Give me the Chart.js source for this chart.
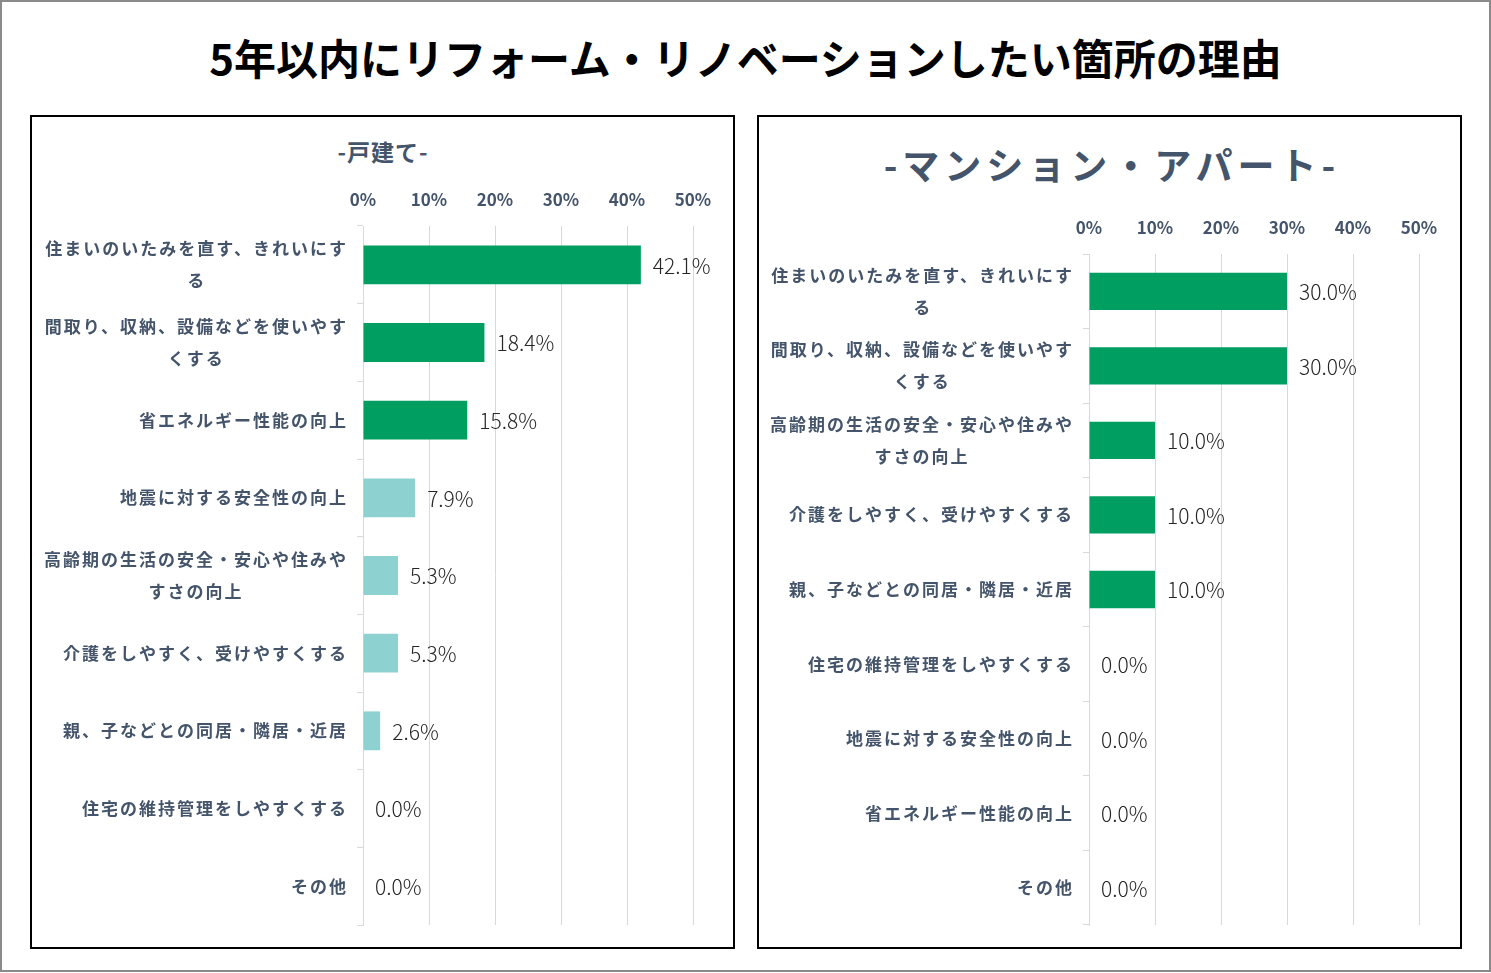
<!DOCTYPE html>
<html lang="ja">
<head>
<meta charset="utf-8">
<script src="https://cdn.jsdelivr.net/npm/chart.js@4.4.1/dist/chart.umd.min.js"></script>
<style>
  html, body { margin: 0; padding: 0; background: #fff; }
  body { width: 1491px; height: 973px; position: relative; overflow: hidden; font-family: "Noto Sans CJK JP", sans-serif; }
  #frame { position: absolute; left: 0; top: 0; width: 1491px; height: 972px; box-sizing: border-box; border: 2px solid #8a8a8a; }
  h1 { position: absolute; left: 0; top: 30px; width: 1491px; margin: 0; text-align: center; font-size: 42px; font-weight: 700; line-height: 54px; color: #000; }
  .panel { position: absolute; top: 115px; width: 705px; height: 834px; box-sizing: border-box; border: 2px solid #000; }
  #p1 { left: 30px; }
  #p2 { left: 757px; }
  .sub { position: absolute; left: 0; width: 100%; box-sizing: border-box; text-align: center; color: #44546A; font-weight: 700; margin: 0; }
  #p1 .sub { top: 18px; font-size: 23px; line-height: 32px; letter-spacing: 1px; padding-left: 1px; }
  #p2 .sub { top: 22px; font-size: 37px; line-height: 50px; letter-spacing: 5px; padding-left: 5px; }
  canvas { position: absolute; left: 0; top: 0; }
</style>
</head>
<body>
<div id="frame"></div>
<h1>5年以内にリフォーム・リノベーションしたい箇所の理由</h1>
<div class="panel" id="p1">
  <div class="sub">-戸建て-</div>
  <canvas id="houseChart" width="701" height="830"></canvas>
</div>
<div class="panel" id="p2">
  <div class="sub">-マンション・アパート-</div>
  <canvas id="aptChart" width="701" height="830"></canvas>
</div>
<script>
// 戸建て
const houseLabels = [
  ['住まいのいたみを直す、きれいにす', 'る'],
  ['間取り、収納、設備などを使いやす', 'くする'],
  '省エネルギー性能の向上',
  '地震に対する安全性の向上',
  ['高齢期の生活の安全・安心や住みや', 'すさの向上'],
  '介護をしやすく、受けやすくする',
  '親、子などとの同居・隣居・近居',
  '住宅の維持管理をしやすくする',
  'その他',
];
const houseValues = [42.1, 18.4, 15.8, 7.9, 5.3, 5.3, 2.6, 0.0, 0.0];

// マンション・アパート
const aptLabels = [
  ['住まいのいたみを直す、きれいにす', 'る'],
  ['間取り、収納、設備などを使いやす', 'くする'],
  ['高齢期の生活の安全・安心や住みや', 'すさの向上'],
  '介護をしやすく、受けやすくする',
  '親、子などとの同居・隣居・近居',
  '住宅の維持管理をしやすくする',
  '地震に対する安全性の向上',
  '省エネルギー性能の向上',
  'その他',
];
const aptValues = [30.0, 30.0, 10.0, 10.0, 10.0, 0.0, 0.0, 0.0, 0.0];

const xTicks = [0, 10, 20, 30, 40, 50];

// 色
const C = {
  green: '#009E60',
  teal:  '#8DD1D0',
  text:  '#44546A',
  value: '#262626',
  grid:  '#D9D9D9',
};

// 項目ラベル（複数行は各行を中央揃え、ブロックは右揃え）
const yLabelPlugin = {
  id: 'yLabels',
  afterDraw(chart) {
    const { ctx } = chart;
    const y = chart.scales.y;
    const right = y.right - 17;
    ctx.save();
    ctx.font = 'bold 17px "Noto Sans CJK JP"';
    ctx.letterSpacing = '2px';
    ctx.fillStyle = C.text;
    ctx.textAlign = 'left';
    ctx.textBaseline = 'middle';
    chart.data.labels.forEach((lab, i) => {
      const lines = Array.isArray(lab) ? lab : [lab];
      const widths = lines.map(l => ctx.measureText(l).width - 2);
      const w = Math.max(...widths);
      const cy = y.getPixelForValue(i);
      lines.forEach((l, k) => {
        const x = right - w / 2 - widths[k] / 2;
        ctx.fillText(l, x, cy + (k - (lines.length - 1) / 2) * 32);
      });
    });
    ctx.restore();
  }
};

// 値ラベル
const valueLabelPlugin = {
  id: 'valueLabels',
  afterDatasetsDraw(chart) {
    const { ctx } = chart;
    const meta = chart.getDatasetMeta(0);
    const data = chart.data.datasets[0].data;
    ctx.save();
    ctx.font = '300 21px "Noto Sans CJK JP"';
    ctx.fillStyle = C.value;
    ctx.textAlign = 'left';
    ctx.textBaseline = 'middle';
    meta.data.forEach((bar, i) => {
      ctx.fillText(data[i].toFixed(1) + '%', bar.x + 12, bar.y + 1);
    });
    ctx.restore();
  }
};

function makeChart(id, labels, values, colors, padTop, padRight) {
  new Chart(document.getElementById(id), {
    type: 'bar',
    data: {
      labels: labels,
      datasets: [{
        data: values,
        backgroundColor: colors,
        barPercentage: 0.5,
        categoryPercentage: 1.0,
      }]
    },
    options: {
      indexAxis: 'y',
      responsive: false,
      animation: false,
      layout: { padding: { left: 0, top: padTop, right: padRight, bottom: 22 } },
      plugins: { legend: { display: false }, tooltip: { enabled: false } },
      scales: {
        x: {
          position: 'top',
          min: 0, max: 50,
          afterBuildTicks: s => { s.ticks = xTicks.map(v => ({ value: v })); },
          afterFit: s => { s.height = 40; },
          grid: { color: C.grid, drawTicks: false },
          border: { display: false },
          ticks: {
            padding: 16,
            color: C.text,
            font: { family: '"Noto Sans CJK JP"', size: 17, weight: 'bold' },
            callback: v => v + '%',
          },
        },
        y: {
          afterFit: s => { s.width = padRight === 40 ? 331 : 330; },
          grid: { color: C.grid, drawOnChartArea: false, drawTicks: true, tickLength: 6 },
          border: { display: true, color: C.grid },
          ticks: { display: false },
        }
      }
    },
    plugins: [yLabelPlugin, valueLabelPlugin]
  });
}

makeChart('houseChart', houseLabels, houseValues,
  houseValues.map((v, i) => i < 3 ? C.green : C.teal), 69, 40);
makeChart('aptChart', aptLabels, aptValues,
  aptValues.map(() => C.green), 97, 41);
</script>
</body>
</html>
